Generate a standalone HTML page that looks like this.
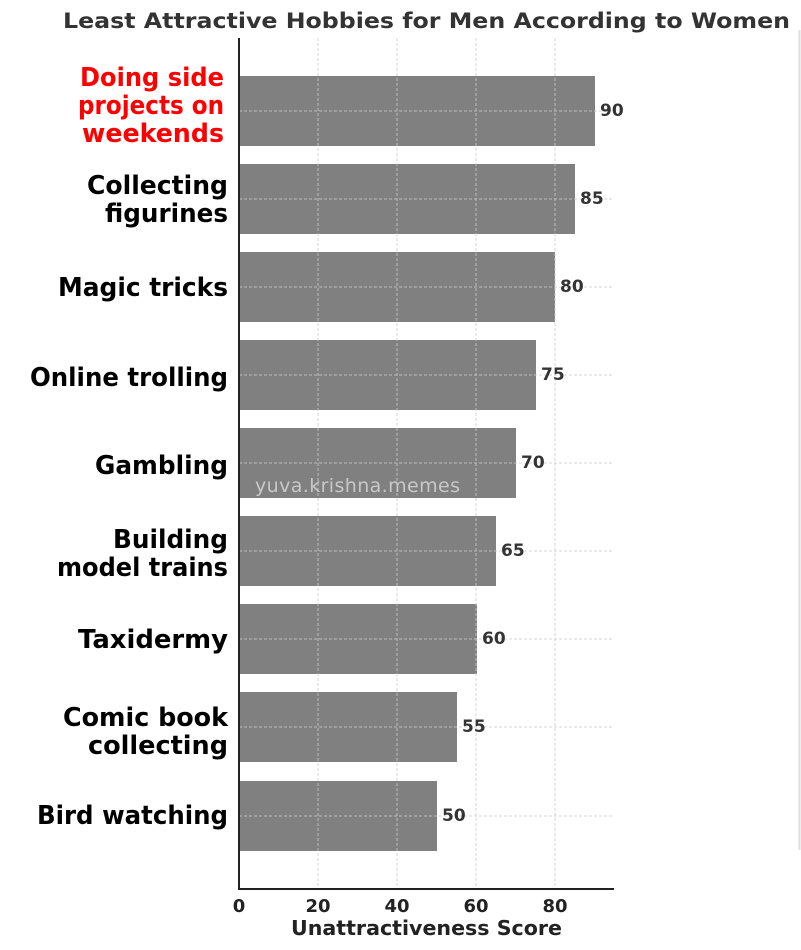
<!DOCTYPE html>
<html><head><meta charset="utf-8"><style>
body{margin:0;background:#fff;width:801px;height:950px;overflow:hidden}
svg{display:block}
text{font-family:"DejaVu Sans","Liberation Sans",sans-serif}
.l{font-family:"Liberation Sans",sans-serif;font-weight:bold;font-size:26px;fill:#000;text-anchor:end}
.v{font-weight:bold;font-size:17px;fill:#333}
</style></head><body>
<svg width="801" height="950" viewBox="0 0 801 950">
<text x="63" y="28" textLength="727" lengthAdjust="spacingAndGlyphs" font-weight="bold" font-size="21" fill="#333">Least Attractive Hobbies for Men According to Women</text>
<line x1="799.5" y1="30" x2="799.5" y2="850" stroke="#ddd" stroke-width="2"/>
<g fill="#808080">
<rect x="239" y="76" width="356" height="70"/>
<rect x="239" y="164" width="336" height="70"/>
<rect x="239" y="252" width="316" height="70"/>
<rect x="239" y="340" width="297" height="70"/>
<rect x="239" y="428" width="277" height="70"/>
<rect x="239" y="516" width="257" height="70"/>
<rect x="239" y="604" width="238" height="70"/>
<rect x="239" y="692" width="218" height="70"/>
<rect x="239" y="781" width="198" height="70"/>
</g>
<g stroke="#ccc" stroke-width="1" stroke-dasharray="3,2" opacity="0.8">
<line x1="318" y1="38" x2="318" y2="888"/><line x1="397" y1="38" x2="397" y2="888"/>
<line x1="476" y1="38" x2="476" y2="888"/><line x1="555" y1="38" x2="555" y2="888"/>
<line x1="239" y1="111" x2="613" y2="111"/><line x1="239" y1="199" x2="613" y2="199"/>
<line x1="239" y1="287" x2="613" y2="287"/><line x1="239" y1="375" x2="613" y2="375"/>
<line x1="239" y1="463" x2="613" y2="463"/><line x1="239" y1="551" x2="613" y2="551"/>
<line x1="239" y1="639" x2="613" y2="639"/><line x1="239" y1="727" x2="613" y2="727"/>
<line x1="239" y1="816" x2="613" y2="816"/>
</g>
<line x1="239" y1="38" x2="239" y2="889" stroke="#222" stroke-width="2"/>
<line x1="238" y1="889" x2="614" y2="889" stroke="#222" stroke-width="2"/>
<g class="v">
<text x="600" y="116">90</text><text x="580" y="204">85</text><text x="560" y="292">80</text>
<text x="541" y="380">75</text><text x="521" y="468">70</text><text x="501" y="556">65</text>
<text x="482" y="644">60</text><text x="462" y="732">55</text><text x="442" y="821">50</text>
</g>
<text x="255" y="492" textLength="205" font-size="19" fill="#c8c8c8">yuva.krishna.memes</text>
<g font-weight="bold" font-size="18" fill="#222" text-anchor="middle">
<text x="239" y="912">0</text><text x="318" y="912">20</text><text x="397" y="912">40</text>
<text x="476" y="912">60</text><text x="555" y="912">80</text>
</g>
<text x="291" y="935" textLength="271" lengthAdjust="spacingAndGlyphs" font-weight="bold" font-size="20" fill="#222">Unattractiveness Score</text>
<g class="l" style="text-anchor:start">
<text x="80" y="86" textLength="144" lengthAdjust="spacingAndGlyphs" style="fill:#f00">Doing side</text>
<text x="78" y="114" textLength="146" lengthAdjust="spacingAndGlyphs" style="fill:#f00">projects on</text>
<text x="82" y="142" textLength="142" lengthAdjust="spacingAndGlyphs" style="fill:#f00">weekends</text>
<text x="87" y="194" textLength="141" lengthAdjust="spacingAndGlyphs">Collecting</text>
<text x="105" y="222" textLength="123" lengthAdjust="spacingAndGlyphs">figurines</text>
<text x="58" y="296" textLength="170" lengthAdjust="spacingAndGlyphs">Magic tricks</text>
<text x="30" y="386" textLength="198" lengthAdjust="spacingAndGlyphs">Online trolling</text>
<text x="95" y="474" textLength="133" lengthAdjust="spacingAndGlyphs">Gambling</text>
<text x="113" y="548" textLength="115" lengthAdjust="spacingAndGlyphs">Building</text>
<text x="57" y="576" textLength="171" lengthAdjust="spacingAndGlyphs">model trains</text>
<text x="78" y="648" textLength="150" lengthAdjust="spacingAndGlyphs">Taxidermy</text>
<text x="63" y="726" textLength="165" lengthAdjust="spacingAndGlyphs">Comic book</text>
<text x="88" y="754" textLength="140" lengthAdjust="spacingAndGlyphs">collecting</text>
<text x="37" y="824" textLength="191" lengthAdjust="spacingAndGlyphs">Bird watching</text>
</g>
</svg>
</body></html>
